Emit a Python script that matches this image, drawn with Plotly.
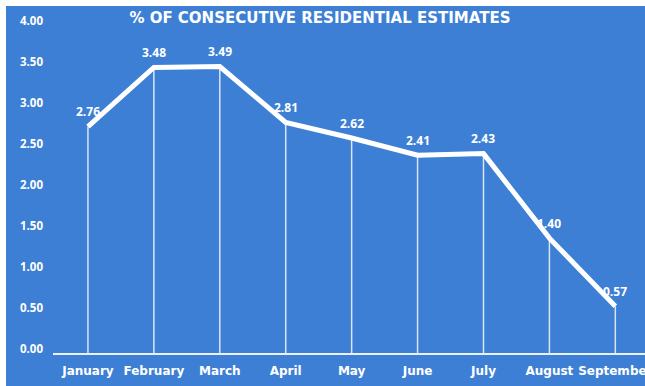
import plotly.graph_objects as go

months = ["January", "February", "March", "April", "May", "June", "July", "August", "September"]
pct = [2.76, 3.48, 3.49, 2.81, 2.62, 2.41, 2.43, 1.40, 0.57]
y_ticks = [0.0, 0.5, 1.0, 1.5, 2.0, 2.5, 3.0, 3.5, 4.0]

BLUE = "#3d7fd4"
WHITE = "#ffffff"
LABEL_FONT = "Open Sans"
WIDE_FONT = "DejaVu Sans"

fig = go.Figure()

# drop lines from each point down to the baseline
dx, dy = [], []
for m, v in zip(months, pct):
    dx += [m, m, None]
    dy += [0, v, None]
fig.add_trace(go.Scatter(
    x=dx, y=dy, mode="lines",
    line=dict(color="rgba(255,255,255,0.8)", width=1.5),
    hoverinfo="skip", showlegend=False,
))

# main series
fig.add_trace(go.Scatter(
    x=months, y=pct, mode="lines",
    line=dict(color=WHITE, width=5),
    showlegend=False,
))

# value labels
for m, v in zip(months, pct):
    fig.add_annotation(
        x=m, y=v, text=f"<b>{v:.2f}</b>", showarrow=False,
        yshift=15, font=dict(family=LABEL_FONT, size=12, color=WHITE),
    )

fig.update_layout(
    width=645, height=386,
    margin=dict(l=53, r=0, t=10, b=33),
    paper_bgcolor=WHITE,
    plot_bgcolor=BLUE,
    showlegend=False,
    title=dict(
        text="<b>% OF CONSECUTIVE RESIDENTIAL ESTIMATES</b>",
        x=0.496, xref="container", xanchor="center",
        y=0.953, yref="container", yanchor="middle",
        font=dict(family=WIDE_FONT, size=15, color=WHITE),
    ),
    shapes=[dict(
        type="rect", xref="paper", yref="paper", layer="below",
        x0=(6 - 53) / 592, x1=1.02, y0=-0.2, y1=(353 - 6) / 343,
        fillcolor=BLUE, line=dict(width=0),
    )],
    xaxis=dict(
        type="category", range=[-0.53, 8.45], automargin=False,
        showgrid=False, zeroline=False,
        showline=True, linecolor="rgba(255,255,255,0.9)", linewidth=2,
        ticks="", ticklabelstandoff=6, tickangle=0,
        tickfont=dict(family=WIDE_FONT, size=12, color=WHITE, weight="bold"),
    ),
    yaxis=dict(
        range=[0, 4.18], automargin=False,
        tickvals=y_ticks, ticktext=[f"{t:.2f}" for t in y_ticks],
        showgrid=False, zeroline=False, showline=False, ticks="",
        ticklabelstandoff=9, ticklabelshift=-4,
        tickfont=dict(family=LABEL_FONT, size=11.5, color=WHITE, weight="bold"),
    ),
)

fig.write_html("out.html")
